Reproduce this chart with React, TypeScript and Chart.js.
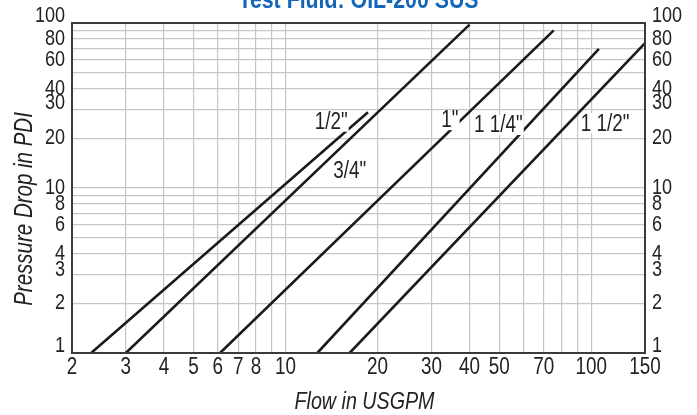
import React, { useEffect, useRef } from "react";
import { Chart, registerables } from "chart.js";

Chart.register(...registerables);

const FONT = '"Liberation Sans", Arial, Helvetica, sans-serif';
const NARROW = 0.82; // Arial Narrow-like horizontal compression

const titleText = "Test Fluid: OIL-200 SUS";
const xTitle = "Flow in USGPM";
const yTitle = "Pressure Drop in PDI";

const xGridValues = [2, 3, 4, 5, 6, 7, 8, 9, 10, 20, 30, 40, 50, 60, 70, 80, 90, 100, 150];
const xTickLabels = [2, 3, 4, 5, 6, 7, 8, 10, 20, 30, 40, 50, 70, 100, 150];
const yGridValues = [1, 2, 3, 4, 5, 6, 7, 8, 9, 10, 20, 30, 40, 50, 60, 70, 80, 90, 100];
const yTickLabels = [1, 2, 3, 4, 6, 8, 10, 20, 30, 40, 60, 80, 100];

const seriesNames = ['1/2"', '3/4"', '1"', '1 1/4"', '1 1/2"'];
const flowHalf = [2.31, 18.6];
const pdHalf = [1, 28.8];
const flowThreeQuarter = [3.0, 40];
const pdThreeQuarter = [1, 97.7];
const flowOne = [6.1, 75.4];
const pdOne = [1, 90.2];
const flowOneQuarter = [12.7, 106];
const pdOneQuarter = [1, 69.8];
const flowOneHalf = [16.2, 150];
const pdOneHalf = [1, 75.5];

// label anchor positions in data units (flow, pressure drop)
const labelFlow = [14.1, 16.2, 34.5, 49.7, 111];
const labelPd = [25.2, 12.7, 25.8, 24.1, 24.7];

const X_MIN = 2, X_MAX = 150, Y_MIN = 1, Y_MAX = 100;

function pts(xs: number[], ys: number[]) {
  return xs.map((x, i) => ({ x, y: ys[i] }));
}

export default function App() {
  const ref = useRef<HTMLCanvasElement | null>(null);
  useEffect(() => {
    document.body.style.margin = "0";
    const canvas = ref.current!;
    const c2d: any = canvas.getContext("2d");
    const origFill = c2d.fillText.bind(c2d);
    c2d.fillText = (text: string, x: number, y: number) => {
      c2d.save();
      c2d.translate(x, y);
      c2d.scale(NARROW, 1);
      origFill(text, 0, 0);
      c2d.restore();
    };

    const flows = [flowHalf, flowThreeQuarter, flowOne, flowOneQuarter, flowOneHalf];
    const pds = [pdHalf, pdThreeQuarter, pdOne, pdOneQuarter, pdOneHalf];

    const overlay = {
      id: "overlay",
      afterDraw(chart: any) {
        const { ctx, chartArea, scales } = chart;
        ctx.save();
        // frame
        ctx.strokeStyle = "#3a3a3a";
        ctx.lineWidth = 2;
        ctx.strokeRect(chartArea.left, chartArea.top, chartArea.right - chartArea.left, chartArea.bottom - chartArea.top);
        const cx = (chartArea.left + chartArea.right) / 2;
        // title (partly cut off at the top)
        ctx.fillStyle = "#1565b8";
        ctx.font = `bold 26px ${FONT}`;
        ctx.textAlign = "center";
        ctx.textBaseline = "alphabetic";
        ctx.fillText(titleText, cx, 8);
        // axis titles
        ctx.fillStyle = "#222222";
        ctx.font = `italic 24px ${FONT}`;
        ctx.textBaseline = "alphabetic";
        ctx.fillText(xTitle, cx + 6, 409);
        ctx.save();
        ctx.font = `italic 25px ${FONT}`;
        ctx.translate(32, 209);
        ctx.rotate(-Math.PI / 2);
        ctx.fillText(yTitle, 0, 0);
        ctx.restore();
        // series labels
        ctx.font = `23px ${FONT}`;
        ctx.textBaseline = "middle";
        seriesNames.forEach((name, i) => {
          const px = scales.x.getPixelForValue(labelFlow[i]);
          const py = scales.y.getPixelForValue(labelPd[i]);
          const w = ctx.measureText(name).width * NARROW;
          ctx.fillStyle = "#ffffff";
          ctx.fillRect(px - w / 2 - 1, py - 10, w + 2, 20);
          ctx.fillStyle = "#222222";
          ctx.fillText(name, px, py + 1);
        });
        ctx.restore();
      },
    };

    const shiftUp: Record<number, number> = { 1: 14, 100: 14, 30: 12, 3: 8 };
    const tickFont = (ctx: any) => {
      const v = ctx.tick ? ctx.tick.value : 0;
      return { family: FONT, size: 22, lineHeight: shiftUp[v] ? `${shiftUp[v]}px` : 1.2 } as any;
    };
    const yLabel = (v: number) => {
      if (!yTickLabels.includes(v)) return "";
      if (shiftUp[v]) return [String(v), ""];
      return String(v);
    };

    const chart = new Chart(canvas, {
      type: "line",
      data: {
        datasets: seriesNames.map((name, i) => ({
          label: name,
          data: pts(flows[i], pds[i]),
          borderColor: "#1a1a1a",
          borderWidth: 2.6,
          pointRadius: 0,
          fill: false,
          tension: 0,
        })),
      },
      options: {
        responsive: false,
        animation: false,
        devicePixelRatio: 1,
        layout: { padding: { top: 23, left: 0, right: 0, bottom: 0 } },
        plugins: { legend: { display: false }, tooltip: { enabled: false }, title: { display: false } },
        scales: {
          x: {
            type: "logarithmic",
            position: "bottom",
            min: X_MIN,
            max: X_MAX,
            afterBuildTicks: (s: any) => { s.ticks = xGridValues.map((v) => ({ value: v })); },
            afterFit: (s: any) => { s.height = 62; },
            ticks: {
              autoSkip: false,
              maxRotation: 0,
              minRotation: 0,
              padding: 1,
              color: "#222",
              font: { family: FONT, size: 23 },
              callback: (v: any) => (xTickLabels.includes(Number(v)) ? String(v) : ""),
            },
            grid: { color: "#c6c6c6", lineWidth: 1.2, drawTicks: false },
            border: { display: false },
          },
          y: {
            type: "logarithmic",
            position: "left",
            min: Y_MIN,
            max: Y_MAX,
            afterBuildTicks: (s: any) => { s.ticks = yGridValues.map((v) => ({ value: v })); },
            afterFit: (s: any) => { s.width = 72; },
            ticks: {
              autoSkip: false,
              padding: 7,
              color: "#222",
              font: tickFont,
              callback: (v: any) => yLabel(Number(v)) as any,
            },
            grid: { color: "#c6c6c6", lineWidth: 1.2, drawTicks: false },
            border: { display: false },
          },
          y2: {
            type: "logarithmic",
            position: "right",
            min: Y_MIN,
            max: Y_MAX,
            afterBuildTicks: (s: any) => { s.ticks = yGridValues.map((v) => ({ value: v })); },
            afterFit: (s: any) => { s.width = 52; },
            ticks: {
              autoSkip: false,
              padding: 7,
              color: "#222",
              font: tickFont,
              callback: (v: any) => yLabel(Number(v)) as any,
            },
            grid: { display: false, drawTicks: false },
            border: { display: false },
          },
        },
      },
      plugins: [overlay],
    });
    return () => chart.destroy();
  }, []);
  return (
    <div style={{ width: 697, height: 415 }}>
      <canvas ref={ref} width={697} height={415} style={{ display: "block" }} />
    </div>
  );
}
